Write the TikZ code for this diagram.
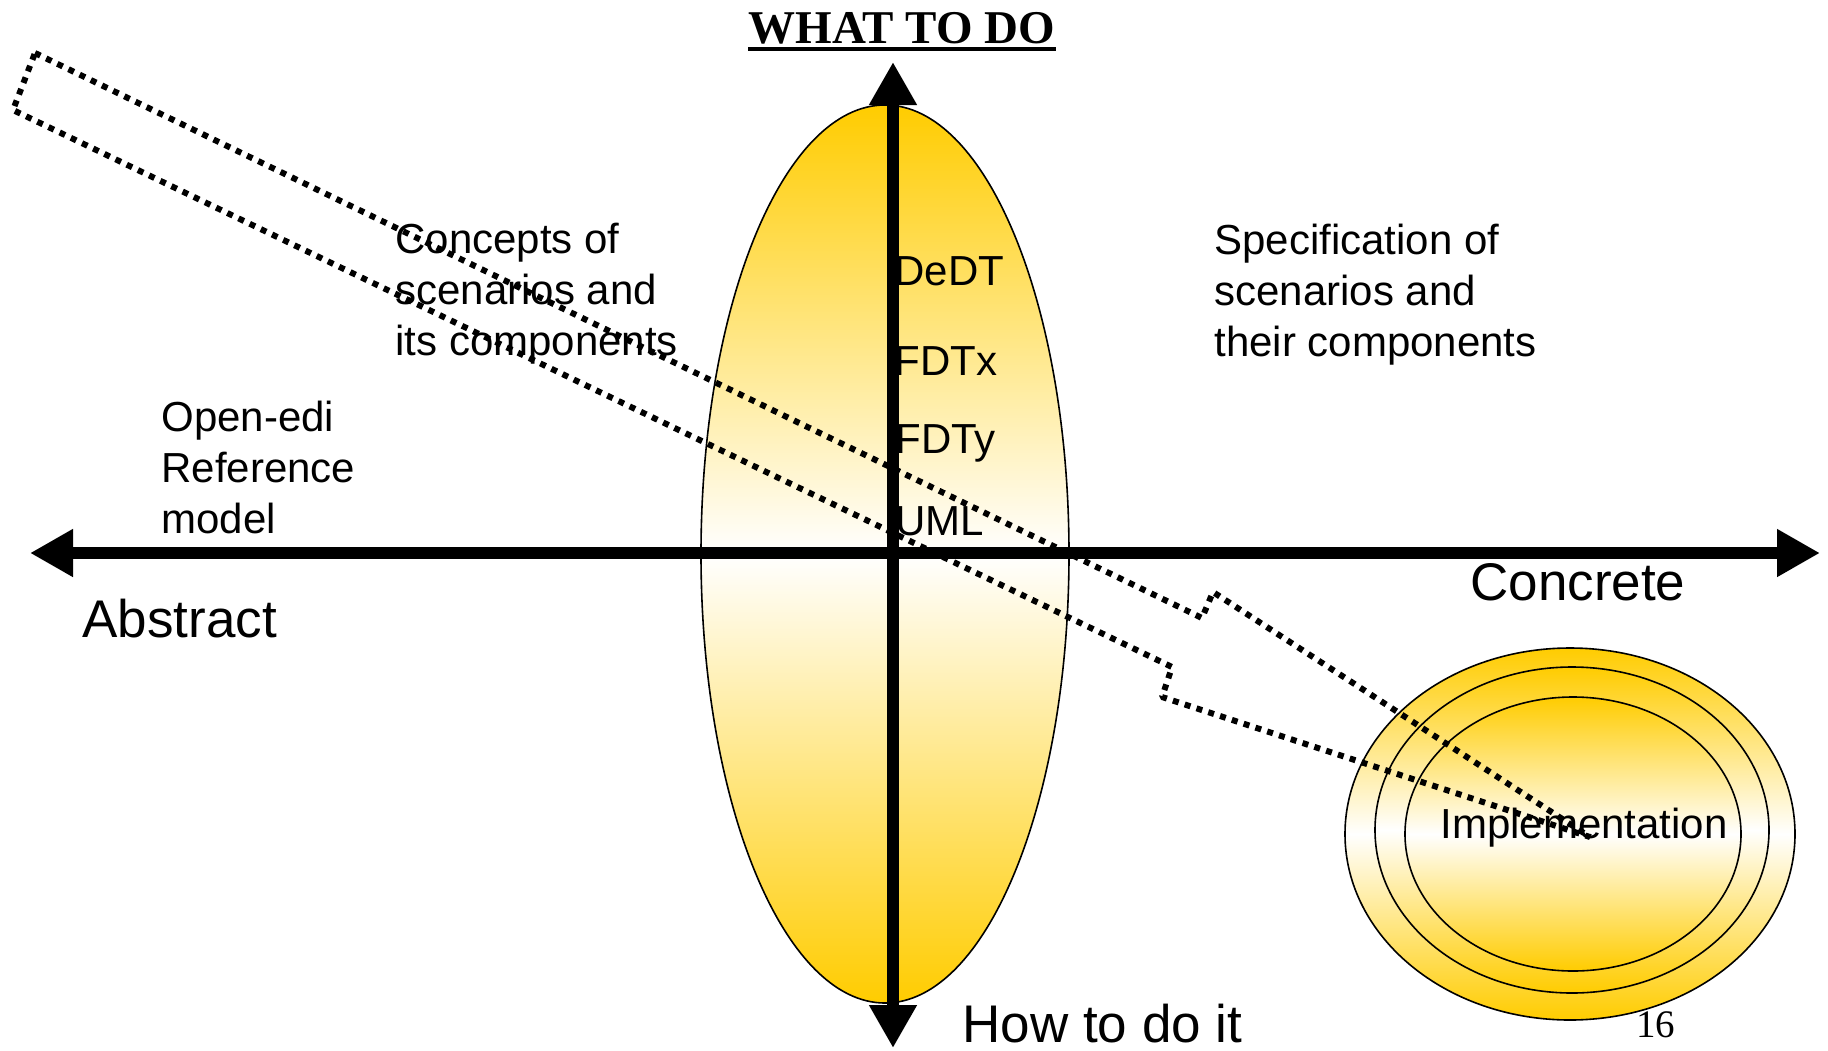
\documentclass[tikz,border=0pt]{standalone}
\usepackage{fontspec}
\setmainfont{Liberation Sans}
\newfontfamily\serifface{Liberation Serif}
\usepackage{tikz}
\usetikzlibrary{arrows.meta,shapes.geometric}
\definecolor{lensgold}{RGB}{255,204,0}

\begin{document}
\begin{tikzpicture}[
    x=0.5bp, y=-0.5bp,
    lens/.style={ellipse, draw=black, line width=0.8bp, top color=lensgold, bottom color=lensgold, middle color=white, inner sep=0pt},
    axis/.style={{Triangle[length=21.5bp,width=22.5bp]}-{Triangle[length=21.5bp,width=22.5bp]}, line width=5.75bp},
    lbl/.style={font=\fontsize{21bp}{25.5bp}\selectfont, align=left, inner sep=0pt, anchor=base west},
    big/.style={font=\fontsize{26.5bp}{32bp}\selectfont, inner sep=0pt, anchor=base west},
    route/.style={line width=3bp, dash pattern=on 3bp off 3.2bp, line join=bevel}
]
\useasboundingbox (0,0) rectangle (1828,1050);

\node[lens, minimum width=184bp, minimum height=449bp] (lens) at (885,554) {};

\coordinate (west) at (30,553);
\coordinate (east) at (1820,553);
\coordinate (north) at (893,62);
\coordinate (south) at (893,1048);
\draw[axis] (west) -- (east);
\draw[axis] (south) -- (north);

\node[font=\serifface\bfseries\fontsize{23.5bp}{28bp}\selectfont, inner sep=0pt, anchor=base] (title) at (902,43) {WHAT TO DO};
\draw[line width=2bp] ([yshift=-3bp]title.base west) -- ([yshift=-3bp]title.base east);

\node[lbl] (concepts) at (395,355) {Concepts of\\scenarios and\\its components};
\node[lbl] (spec) at (1214,356) {Specification of\\scenarios and\\their components};
\node[lbl] (oedi) at (161,533) {Open-edi\\Reference\\model};

\node[lbl] (dedt) at (894,285) {DeDT};
\node[lbl] (fdtx) at (894,375) {FDTx};
\node[lbl] (fdty) at (895,453) {FDTy};
\node[lbl] (uml) at (895,535) {UML};

\node[big] (abstract) at (82,637) {Abstract};
\node[big] (concrete) at (1470,600) {Concrete};
\node[big] (howto) at (962,1042) {How to do it};

\node[lens, minimum width=225bp, minimum height=186bp] (ring1) at (1570,834) {};
\node[lens, minimum width=197bp, minimum height=163bp] (ring2) at (1572,830) {};
\node[lens, minimum width=168bp, minimum height=137bp] (ring3) at (1573,834) {};
\node[lbl] (impl) at (1440,838) {Implementation};

\node[font=\serifface\fontsize{19.5bp}{23bp}\selectfont, inner sep=0pt, anchor=base west] (page) at (1636,1037) {16};

\draw[route] (35,53) -- (1202,618) -- (1213,592) -- (1590,837) -- (1162,697) -- (1172,667) -- (13,110) -- cycle;
\end{tikzpicture}
\end{document}
